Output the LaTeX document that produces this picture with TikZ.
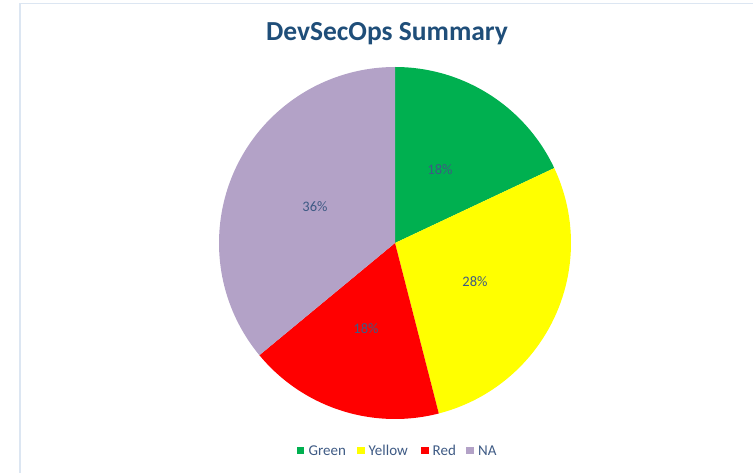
\documentclass[tikz,border=0pt]{standalone}
\usepackage{fontspec}
\setmainfont{Carlito}
\definecolor{titleblue}{HTML}{1F4E79}
\definecolor{labelblue}{HTML}{3E5A84}
\definecolor{frameblue}{HTML}{DCE6F2}
\definecolor{sliceGreen}{HTML}{00B050}
\definecolor{sliceYellow}{HTML}{FFFF00}
\definecolor{sliceRed}{HTML}{FF0000}
\definecolor{sliceNA}{HTML}{B3A2C7}
\tikzset{
  pctlabel/.style={text=labelblue, font=\fontsize{14.5}{14.5}\selectfont, inner sep=0pt},
  legendtext/.style={text=labelblue, font=\fontsize{15}{15}\selectfont, inner sep=0pt, anchor=base west},
  legendbox/.style={minimum size=7.5pt, inner sep=0pt},
}
\begin{document}
\begin{tikzpicture}[x=1pt, y=-1pt]
  \useasboundingbox (0,0) rectangle (753,473);
  % chart frame
  \draw[frameblue, line width=1.5pt] (20,473) -- (20,3.5) -- (753,3.5);
  % title
  \node[text=titleblue, font=\fontsize{27.5}{27.5}\selectfont\bfseries, anchor=base] (title) at (387,41) {DevSecOps Summary};
  % pie slices (angles measured counter-clockwise, y axis flipped)
  \coordinate (c) at (395,243);
  \def\rad{176}
  \fill[sliceGreen]  (c) -- ++(-90:\rad) arc[start angle=-90, end angle=-25.2, radius=\rad] -- cycle;
  \fill[sliceYellow] (c) -- ++(-25.2:\rad) arc[start angle=-25.2, end angle=75.6, radius=\rad] -- cycle;
  \fill[sliceRed]    (c) -- ++(75.6:\rad) arc[start angle=75.6, end angle=140.4, radius=\rad] -- cycle;
  \fill[sliceNA]     (c) -- ++(140.4:\rad) arc[start angle=140.4, end angle=270, radius=\rad] -- cycle;
  % data labels
  \node[pctlabel] (lg) at (440,170) {18\%};
  \node[pctlabel] (ly) at (475,282) {28\%};
  \node[pctlabel] (lr) at (366,329) {18\%};
  \node[pctlabel] (ln) at (315,207) {36\%};
  % legend
  \node[legendbox, fill=sliceGreen]  (kg) at (300.5,450.5) {};
  \node[legendtext] (tg) at (308.5,455.5) {Green};
  \node[legendbox, fill=sliceYellow] (ky) at (361,450.5) {};
  \node[legendtext] (ty) at (368.5,455.5) {Yellow};
  \node[legendbox, fill=sliceRed]    (kr) at (425,450.5) {};
  \node[legendtext] (tr) at (432.5,455.5) {Red};
  \node[legendbox, fill=sliceNA]     (kn) at (470,450.5) {};
  \node[legendtext] (tn) at (478,455.5) {NA};
\end{tikzpicture}
\end{document}
